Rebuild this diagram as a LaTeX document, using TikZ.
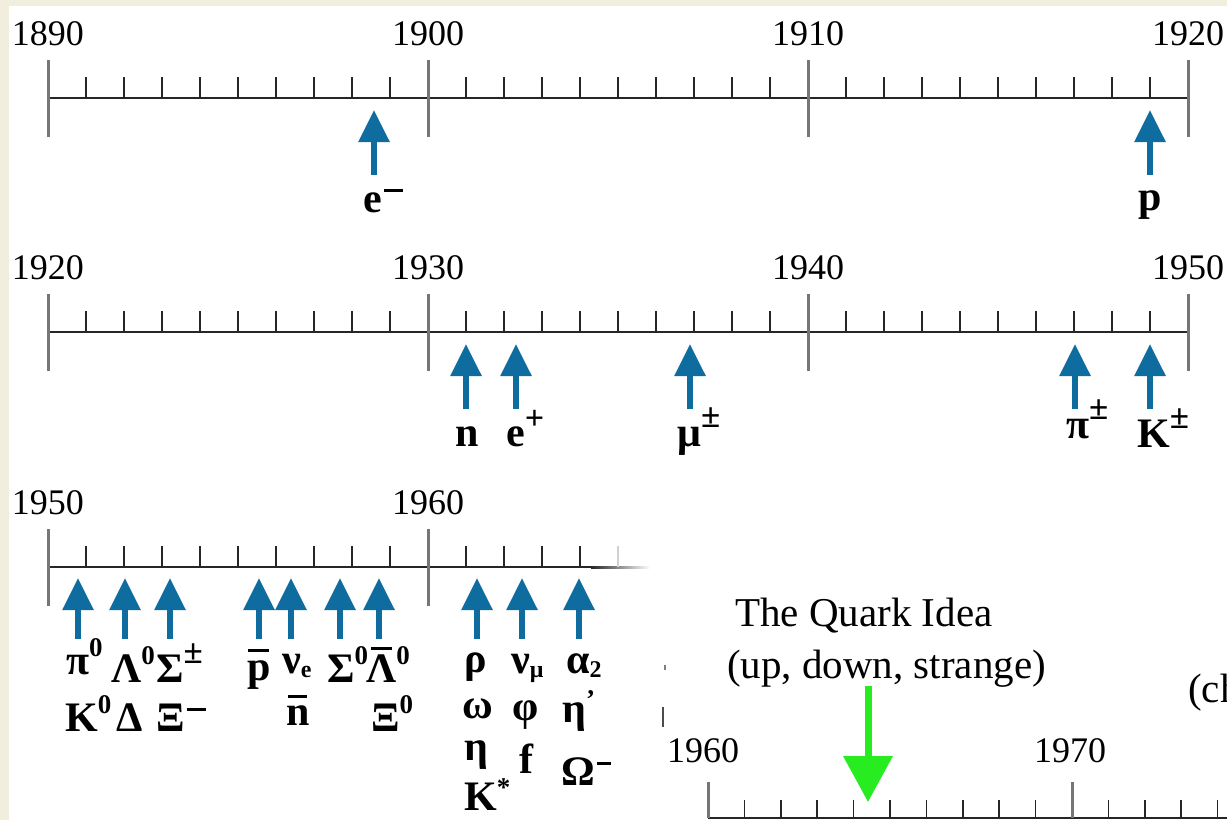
\documentclass[tikz,border=0pt]{standalone}
\usepackage{fontspec}
\setmainfont{Liberation Serif}
\usetikzlibrary{arrows.meta}
\definecolor{cream}{RGB}{242,238,221}
\definecolor{pblue}{RGB}{14,108,158}
\definecolor{qgreen}{RGB}{38,236,32}
\definecolor{tickgray}{RGB}{118,118,118}
\newcommand\Sp[2][18pt]{\raisebox{#1}{\fontsize{27}{27}\selectfont #2}}
\newcommand\Pm{\raisebox{19pt}{\fontsize{35}{35}\selectfont ±}}
\newcommand\Pl{\raisebox{17pt}{\fontsize{34}{34}\selectfont +}}
\newcommand\Mn[1]{\hspace{2pt}\raisebox{20pt}{\rule{#1}{2.6pt}}}
\newcommand\Sb[1]{\raisebox{-4pt}{\fontsize{24}{24}\selectfont #1}}
\newcommand\OB[3]{\ooalign{#1\cr\hidewidth\raisebox{#2}{\rule{#3}{3pt}}\hidewidth\cr}}
\begin{document}
\begin{tikzpicture}[x=1pt,y=-1pt,
  yearlab/.style={font=\fontsize{36}{36}\selectfont, anchor=base, inner sep=0pt},
  plab/.style={font=\fontsize{42}{42}\selectfont\bfseries, anchor=base west, inner sep=0pt},
  qlab/.style={font=\fontsize{41}{41}\selectfont, anchor=base west, inner sep=0pt},
  axisline/.style={line width=2pt, black!85},
  majortick/.style={line width=3pt, tickgray},
  minortick/.style={line width=1.6pt, black!85},
  discover/.style={line width=6pt, pblue, -{Triangle[width=30pt,length=32pt]}},
  quark/.style={line width=7pt, qgreen, -{Triangle[width=48pt,length=46pt]}}]
\useasboundingbox (0,0) rectangle (1227,820);
\fill[cream] (0,0) rectangle (1227,820);
\fill[white] (9,6) rectangle (1227,820);

% ---------- Row 1: 1890-1920
\draw[axisline] (48,98) -- (1188,98);
\foreach \i in {1,...,29} \draw[minortick] ({48+38*\i},77) -- ({48+38*\i},98);
\foreach \i/\yr in {0/1890,10/1900,20/1910,30/1920}{
  \draw[majortick] ({48+38*\i},60) -- ({48+38*\i},137);
  \node[yearlab] (ya\yr) at ({48+38*\i},45) {\yr};}

\coordinate (ta1) at (374,110); \coordinate (sa1) at (374,175);
\coordinate (ta2) at (1150,110); \coordinate (sa2) at (1150,175);
\draw[discover] (sa1) -- (ta1);
\draw[discover] (sa2) -- (ta2);
\node[plab] (lem) at (363,212) {e\Mn{19pt}};
\node[plab] (lp) at (1138,210) {p};

% ---------- Row 2: 1920-1950
\draw[axisline] (48,332) -- (1188,332);
\foreach \i in {1,...,29} \draw[minortick] ({48+38*\i},311) -- ({48+38*\i},332);
\foreach \i/\yr in {0/1920,10/1930,20/1940,30/1950}{
  \draw[majortick] ({48+38*\i},294) -- ({48+38*\i},371);
  \node[yearlab] (yb\yr) at ({48+38*\i},279) {\yr};}

\foreach \n/\x in {1/466,2/516,3/690,4/1075,5/1150}{
  \coordinate (tb\n) at (\x,344); \coordinate (sb\n) at (\x,409);
  \draw[discover] (sb\n) -- (tb\n);}
\node[plab] (ln) at (455,446) {n};
\node[plab] (lep) at (506,446) {e\Pl};
\node[plab] (lmu) at (677,446) {μ\Pm};
\node[plab] (lpi) at (1066,438) {π\Pm};
\node[plab] (lK) at (1137,447) {K\Pm};

% ---------- Row 3: 1950-1964
\draw[axisline] (48,567) -- (592,567);
\shade[left color=black!85, right color=white] (591,566) rectangle (650,568);
\foreach \i in {1,...,14} \draw[minortick] ({48+38*\i},546) -- ({48+38*\i},567);
\draw[line width=1.6pt, black!18] (618,546) -- (618,567);
\foreach \i/\yr in {0/1950,10/1960}{
  \draw[majortick] ({48+38*\i},529) -- ({48+38*\i},606);
  \node[yearlab] (yc\yr) at ({48+38*\i},514) {\yr};}

\foreach \n/\x in {1/78,2/125,3/170,4/259,5/291,6/340,7/379,8/477,9/522,10/579}{
  \coordinate (tc\n) at (\x,578); \coordinate (sc\n) at (\x,639);
  \draw[discover] (sc\n) -- (tc\n);}

\node[plab] (lpi0) at (66,674) {π\Sp{0}};
\node[plab] (lL0) at (111,682) {Λ\Sp{0}};
\node[plab] (lSpm) at (156,682) {Σ\Pm};
\node[plab] (lpbar) at (247,680) {\OB{p}{28pt}{21pt}};
\node[plab] (lnue) at (282,673) {ν\Sb{e}};
\node[plab] (lS0) at (327,682) {Σ\Sp{0}};
\node[plab] (lLb0) at (366,682) {\OB{Λ}{32pt}{21pt}\Sp{0}};
\node[plab] (lK0) at (65,731) {K\Sp{0}};
\node[plab] (lD) at (116,731) {Δ};
\node[plab] (lXim) at (156,731) {Ξ\Mn{19pt}};
\node[plab] (lnbar) at (286,725) {\OB{n}{27pt}{19pt}};
\node[plab] (lXi0) at (371,731) {Ξ\Sp{0}};

\node[plab] (lrho) at (464,672) {ρ};
\node[plab] (lnumu) at (511,673) {ν\Sb{μ}};
\node[plab] (la2) at (566,673) {α\Sb{2}};
\node[plab] (lom) at (462,718) {ω};
\node[plab] (lphi) at (512,720) {φ};
\node[plab] (letap) at (562,722) {η\Sp[14pt]{'}};
\node[plab] (leta) at (464,760) {η};
\node[plab] (lf) at (519,773) {f};
\node[plab] (lOm) at (561,785) {Ω\Mn{14pt}};
\node[plab] (lKs) at (464,810) {K\Sp[14pt]{*}};

% stray fragments
\draw[line width=1.5pt, black!70] (663,707) -- (663,727);
\draw[line width=1.5pt, black!50] (665,665) -- (665,670);

% ---------- Row 4: 1960-
\draw[axisline] (708,818) -- (1227,818);
\foreach \i in {1,...,14} \draw[minortick] ({708+36.4*\i},800) -- ({708+36.4*\i},818);
\foreach \i/\yr in {0/1960,10/1970}{
  \draw[majortick] ({708+36.4*\i},782) -- ({708+36.4*\i},818);}
\node[yearlab] (yd1960) at (703,762) {1960};
\node[yearlab] (yd1970) at (1070,762) {1970};

\node[qlab] (qt1) at (735,626) {The Quark Idea};
\node[qlab] (qt2) at (727,678) {(up, down, strange)};
\node[qlab] (qch) at (1188,702) {(ch};
\coordinate (qa) at (868,686); \coordinate (qb) at (868,802);
\draw[quark] (qa) -- (qb);
\end{tikzpicture}
\end{document}
